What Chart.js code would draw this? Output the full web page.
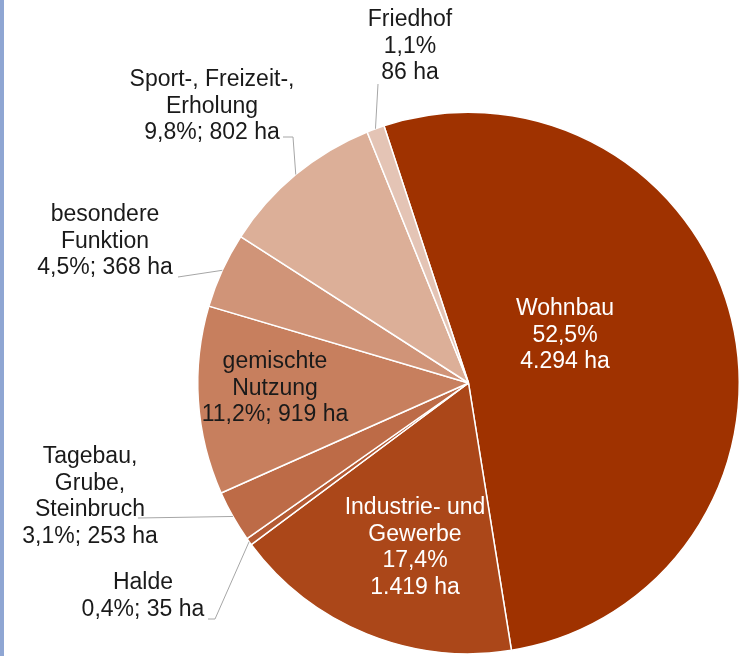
<!DOCTYPE html>
<html>
<head>
<meta charset="utf-8">
<script src="https://cdn.jsdelivr.net/npm/chart.js@4"></script>
<style>
    body { margin: 0; background: #fff; }
    #wrap { position: relative; width: 746px; height: 656px; overflow: hidden; }
    #edge { position: absolute; left: 0; top: 0; width: 4px; height: 656px; background: #8fa6d3; }
</style>
</head>
<body>
<div id="wrap">
    <canvas id="landChart" width="746" height="656"></canvas>
    <div id="edge"></div>
</div>
<script>
// Flächennutzung (ha)
const categories = [
    ['Wohnbau'],
    ['Industrie- und', 'Gewerbe'],
    ['Halde'],
    ['Tagebau,', 'Grube,', 'Steinbruch'],
    ['gemischte', 'Nutzung'],
    ['besondere', 'Funktion'],
    ['Sport-, Freizeit-,', 'Erholung'],
    ['Friedhof']
];
const areaHa = [4294, 1419, 35, 253, 919, 368, 802, 86];

const sliceColors = ['#9f3200', '#ab4719', '#b45a33', '#bd6b47', '#c77f5e', '#d09478', '#dcaf98', '#e4c4b5'];

// where each label sits (text centre, first line) + leader line points toward the slice
const labelLayout = [
    { x: 565, y: 309, color: '#ffffff', split: true },
    { x: 415, y: 508, color: '#ffffff', split: true },
    { x: 143, y: 583, color: '#1a1a1a', split: false, leader: [[208, 619], [215, 619]] },
    { x: 90,  y: 457, color: '#1a1a1a', split: false, leader: [[138, 518]] },
    { x: 275, y: 362, color: '#1a1a1a', split: false },
    { x: 105, y: 215, color: '#1a1a1a', split: false, leader: [[178, 277]] },
    { x: 212, y: 80,  color: '#1a1a1a', split: false, leader: [[283, 137], [293, 137]] },
    { x: 410, y: 20,  color: '#1a1a1a', split: true, leader: [[378, 84]] }
];
const lineH = 26.5;

const total = areaHa.reduce((a, b) => a + b, 0);

function fmtPct(v) {
    return (v / total * 100).toFixed(1).replace('.', ',') + '%';
}
function fmtHa(v) {
    return v.toString().replace(/\B(?=(\d{3})+(?!\d))/g, '.') + ' ha';
}

const sliceLabels = {
    id: 'sliceLabels',
    afterDatasetsDraw(chart) {
        const { ctx } = chart;
        const meta = chart.getDatasetMeta(0);
        ctx.save();
        ctx.font = '23px "Liberation Sans", Arial, sans-serif';
        ctx.textAlign = 'center';
        ctx.textBaseline = 'middle';

        meta.data.forEach((arc, i) => {
            const lay = labelLayout[i];
            const v = areaHa[i];

            if (lay.leader) {
                const mid = (arc.startAngle + arc.endAngle) / 2;
                const ax = arc.x + arc.outerRadius * Math.cos(mid);
                const ay = arc.y + arc.outerRadius * Math.sin(mid);
                ctx.strokeStyle = '#a6a6a6';
                ctx.lineWidth = 1;
                ctx.beginPath();
                ctx.moveTo(lay.leader[0][0], lay.leader[0][1]);
                for (let k = 1; k < lay.leader.length; k++) {
                    ctx.lineTo(lay.leader[k][0], lay.leader[k][1]);
                }
                ctx.lineTo(ax, ay);
                ctx.stroke();
            }

            let lines = categories[i].slice();
            if (lay.split) {
                lines.push(fmtPct(v), fmtHa(v));
            } else {
                lines.push(fmtPct(v) + '; ' + fmtHa(v));
            }
            ctx.fillStyle = lay.color;
            lines.forEach((t, k) => ctx.fillText(t, lay.x, lay.y + k * lineH));
        });
        ctx.restore();
    }
};

const ctx = document.getElementById('landChart').getContext('2d');
new Chart(ctx, {
    type: 'pie',
    data: {
        labels: categories.map(c => c.join(' ')),
        datasets: [{
            data: areaHa,
            backgroundColor: sliceColors,
            borderColor: '#ffffff',
            borderWidth: 1.5
        }]
    },
    options: {
        responsive: false,
        animation: false,
        rotation: -18.2,
        layout: {
            padding: { left: 197, right: 6, top: 111.5, bottom: 1.5 }
        },
        plugins: {
            legend: { display: false },
            tooltip: { enabled: false }
        }
    },
    plugins: [sliceLabels]
});
</script>
</body>
</html>
